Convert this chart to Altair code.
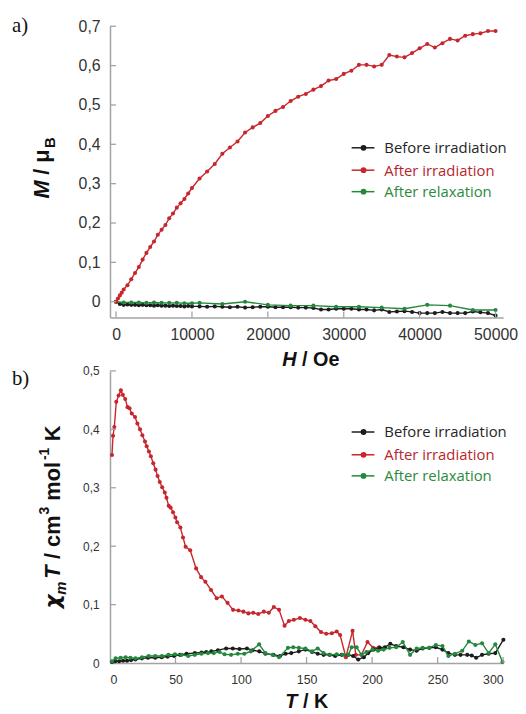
import altair as alt
import pandas as pd

SERIES = ["Before irradiation", "After irradiation", "After relaxation"]
COLORS = ["#1c1c1c", "#c8262d", "#22883b"]
TEXT_COLORS = ["#262626", "#b8262d", "#2b8a3e"]
AXC = "#a3a3a3"

# ---------------- panel a) : M vs H ----------------
H_before = [0, 500, 1000, 1500, 2000, 2500, 3000, 3500, 4000, 4500, 5000, 5500, 6000, 6500, 7000,
            7500, 8000, 8500, 9000, 9500, 10000, 11000, 12000, 13000, 14000, 15000, 16000, 17000,
            18000, 19000, 20000, 21000, 22000, 23000, 24000, 25000, 26000, 27000, 28000, 29000,
            30000, 31000, 32000, 33000, 34000, 35000, 36000, 37000, 38000, 39000, 40000, 41000,
            42000, 43000, 44000, 45000, 46000, 47000, 48000, 49000, 50000]
M_before = [0, -0.006, -0.008, -0.007, -0.008, -0.008, -0.009, -0.008, -0.009, -0.009, -0.010,
            -0.009, -0.010, -0.010, -0.011, -0.010, -0.011, -0.011, -0.012, -0.011, -0.012,
            -0.012, -0.013, -0.012, -0.013, -0.014, -0.013, -0.015, -0.014, -0.013, -0.013,
            -0.014, -0.014, -0.014, -0.015, -0.015, -0.016, -0.020, -0.020, -0.018, -0.018,
            -0.018, -0.020, -0.020, -0.022, -0.020, -0.026, -0.025, -0.024, -0.026, -0.029,
            -0.029, -0.029, -0.026, -0.029, -0.029, -0.029, -0.025, -0.027, -0.029, -0.035]

H_after = [0, 250, 500, 750, 1000, 1500, 2000, 2500, 3000, 3500, 4000, 4500, 5000, 5500, 6000,
           6500, 7000, 7500, 8000, 8500, 9000, 9500, 10000, 11000, 12000, 13000, 14000, 15000,
           16000, 17000, 18000, 19000, 20000, 21000, 22000, 23000, 24000, 25000, 26000, 27000,
           28000, 29000, 30000, 31000, 32000, 33000, 34000, 35000, 36000, 37000, 38000, 39000,
           40000, 41000, 42000, 43000, 44000, 45000, 46000, 47000, 48000, 49000, 50000]
M_after = [0, 0.008, 0.016, 0.023, 0.031, 0.042, 0.057, 0.073, 0.088, 0.107, 0.124, 0.139, 0.153,
           0.170, 0.183, 0.195, 0.212, 0.224, 0.239, 0.250, 0.261, 0.275, 0.289, 0.313, 0.331,
           0.350, 0.376, 0.392, 0.407, 0.430, 0.443, 0.454, 0.472, 0.485, 0.495, 0.510, 0.521,
           0.528, 0.539, 0.548, 0.562, 0.566, 0.579, 0.587, 0.602, 0.602, 0.598, 0.602, 0.627,
           0.623, 0.621, 0.632, 0.644, 0.655, 0.646, 0.657, 0.668, 0.664, 0.676, 0.680, 0.682,
           0.688, 0.688]

H_relax = [0, 1000, 2000, 3000, 4000, 5000, 6000, 7000, 8000, 9000, 10000, 11000, 14000, 17000,
           20000, 23000, 26000, 29000, 32000, 35000, 38000, 41000, 44000, 47000, 50000]
M_relax = [0, -0.002, -0.002, -0.002, -0.003, -0.002, -0.003, -0.003, -0.003, -0.004, -0.004,
           -0.003, -0.006, 0.000, -0.008, -0.010, -0.010, -0.013, -0.013, -0.015, -0.018, -0.008,
           -0.010, -0.021, -0.021]

H_ticks = [0, 10000, 20000, 30000, 40000, 50000]
M_ticks = [0, 0.1, 0.2, 0.3, 0.4, 0.5, 0.6, 0.7]

# ---------------- panel b) : chiT vs T ----------------
T_before = [1.5, 4, 7, 10, 13, 16, 19.4, 24.4, 29, 34.5, 39.5, 44, 49, 53.4, 58.4, 64.7, 69.8, 73.5,
            77.3, 82.4, 88.6, 93.7, 98.8, 104.5, 108.8, 113.9, 118.6, 124.7, 129.7, 134, 138.3,
            144.1, 149.1, 154.2, 158.5, 163, 167.5, 171.8, 176.8, 181.9, 185.5, 189.4, 193.7, 197,
            201.2, 205.8, 209.8, 213.9, 218.4, 223.9, 229, 234, 238.6, 243.6, 248.6, 253.7, 258.2,
            263.2, 267.5, 272.6, 276, 279.4, 283.9, 288.9, 294, 300.2]
X_before = [0.002, 0.003, 0.003, 0.004, 0.004, 0.005, 0.006, 0.008, 0.009, 0.009, 0.010, 0.011,
            0.012, 0.014, 0.016, 0.017, 0.018, 0.019, 0.020, 0.022, 0.025, 0.025, 0.024, 0.025,
            0.022, 0.020, 0.016, 0.014, 0.012, 0.016, 0.017, 0.020, 0.023, 0.019, 0.016, 0.014,
            0.014, 0.012, 0.014, 0.014, 0.012, 0.006, 0.010, 0.017, 0.023, 0.026, 0.027, 0.033,
            0.029, 0.027, 0.023, 0.021, 0.025, 0.026, 0.027, 0.023, 0.017, 0.014, 0.014, 0.014,
            0.013, 0.009, 0.014, 0.016, 0.017, 0.040]

T_after = [1.5, 2.3, 3.3, 4.8, 6.6, 8.3, 9.8, 11.6, 13.4, 14.9, 16.6, 19.1, 20.9, 22.9, 24.7, 26.7,
           28, 29.7, 31.2, 33, 34.8, 36.3, 38, 39.8, 41.8, 43.1, 44.8, 46.3, 48.1, 49.9, 51.2, 53.7,
           55.7, 57.7, 61.2, 65.7, 69.5, 72.8, 77.1, 81.4, 85.4, 89.7, 93.9, 98, 101.8, 105.6,
           109.3, 113.1, 117.4, 121.2, 125, 129, 133.2, 136.5, 140.3, 144.9, 149.1, 152.9, 156.7,
           161, 165, 169.3, 173, 175.6, 180, 185.1, 187.6, 191.9, 196.5, 200.8, 205.3, 208.8]
X_after = [0.356, 0.389, 0.404, 0.447, 0.458, 0.467, 0.459, 0.452, 0.438, 0.436, 0.427, 0.421,
           0.410, 0.400, 0.390, 0.379, 0.371, 0.362, 0.354, 0.342, 0.331, 0.320, 0.310, 0.301,
           0.292, 0.283, 0.269, 0.266, 0.258, 0.249, 0.241, 0.232, 0.215, 0.199, 0.193, 0.162,
           0.147, 0.139, 0.125, 0.111, 0.114, 0.103, 0.091, 0.090, 0.088, 0.085, 0.086, 0.084,
           0.088, 0.086, 0.096, 0.091, 0.064, 0.072, 0.074, 0.077, 0.074, 0.072, 0.063, 0.053,
           0.050, 0.051, 0.054, 0.048, 0.010, 0.055, 0.014, 0.014, 0.036, 0.026, 0.027, 0.025]

T_relax = [1.5, 4.3, 8.1, 11.9, 15.6, 19.4, 24.4, 29.5, 34.5, 39.6, 44.6, 49.6, 54.6, 59.7, 64.7,
           69.8, 74.8, 79.2, 83.6, 87.4, 92.4, 97.5, 102.5, 107.5, 113.8, 118.6, 124, 129, 135.8,
           139.8, 144.1, 149.1, 154.2, 158.5, 163, 168, 173, 177.6, 181.9, 184.4, 188.2, 191.9,
           195.7, 200.3, 204.6, 208.8, 213.3, 218.4, 223.4, 229, 234, 238.6, 243.6, 248.6, 253.7,
           258.2, 263.2, 268.8, 273.8, 278.8, 283.9, 288.9, 294, 299.5]
X_relax = [0.003, 0.008, 0.009, 0.010, 0.009, 0.008, 0.010, 0.012, 0.012, 0.012, 0.014, 0.015,
           0.014, 0.012, 0.014, 0.016, 0.017, 0.017, 0.019, 0.015, 0.014, 0.016, 0.016, 0.020,
           0.032, 0.017, 0.014, 0.010, 0.026, 0.027, 0.026, 0.025, 0.020, 0.025, 0.017, 0.014,
           0.015, 0.014, 0.014, 0.027, 0.027, 0.014, 0.019, 0.023, 0.021, 0.023, 0.026, 0.027,
           0.036, 0.014, 0.025, 0.026, 0.026, 0.031, 0.029, 0.012, 0.016, 0.021, 0.037, 0.031,
           0.034, 0.017, 0.032, 0.002]

T_ticks = [50, 100, 150, 200, 250, 300]
X_ticks = [0.1, 0.2, 0.3, 0.4, 0.5]

W = 397
H1 = 294
H2 = 295
FONT = "Liberation Sans"
COMMA = "datum.value == 0 ? '0' : replace(format(datum.value, '.1f'), '.', ',')"

color = alt.Color("series:N", scale=alt.Scale(domain=SERIES, range=COLORS), legend=None)


def series_df(xs, ys, name):
    return pd.DataFrame({"x": xs, "y": ys, "series": [name] * len(xs)})


def text(t, x, y, size, weight="bold", style="normal", angle=0, align="left",
         color="#111111", font=FONT, baseline="alphabetic"):
    kw = dict(text=t, fontSize=size, fontWeight=weight, fontStyle=style, align=align,
              baseline=baseline, color=color, font=font)
    if angle:
        kw["angle"] = angle
    return alt.Chart(pd.DataFrame({"k": [0]})).mark_text(**kw).encode(
        x=alt.value(x), y=alt.value(y))


def legend(rows_y):
    layers = []
    for name, c, tc, yy in zip(SERIES, COLORS, TEXT_COLORS, rows_y):
        d = pd.DataFrame({"series": [name]})
        layers.append(alt.Chart(d).mark_rule(color=c, strokeWidth=1.5).encode(
            x=alt.value(244), x2=alt.value(267), y=alt.value(yy)))
        layers.append(alt.Chart(d).mark_circle(color=c, size=34, opacity=1).encode(
            x=alt.value(256), y=alt.value(yy)))
        layers.append(alt.Chart(d).mark_text(text=name, font="Open Sans", fontSize=15,
                                             align="left", baseline="middle", color=tc).encode(
            x=alt.value(277), y=alt.value(yy + 0.5)))
    return layers


def panel(dfs, xenc, yenc, xt_vals, yt_vals, h, legend_rows, extra):
    layers = []
    for d in dfs:
        base = alt.Chart(d).encode(x=xenc, y=yenc, color=color)
        layers.append(base.mark_line(strokeWidth=1.4))
        layers.append(base.mark_circle(size=17, opacity=1))
    layers.append(alt.Chart(pd.DataFrame({"x": xt_vals})).mark_rule(color=AXC, strokeWidth=1.3).encode(
        x=xenc, y=alt.value(h), y2=alt.value(h - 6)))
    layers.append(alt.Chart(pd.DataFrame({"y": yt_vals})).mark_rule(color=AXC, strokeWidth=1.3).encode(
        y=yenc, x=alt.value(0), x2=alt.value(6)))
    layers += legend(legend_rows)
    layers += extra
    return alt.layer(*layers).properties(width=W, height=h)


# ---- panel a
xa = alt.X("x:Q", scale=alt.Scale(domain=[-800, 51000], nice=False, zero=False),
           axis=alt.Axis(values=H_ticks, format="d", title=None, labelFontSize=16, labelPadding=9))
ya = alt.Y("y:Q", scale=alt.Scale(domain=[-0.04, 0.7], nice=False, zero=False),
           axis=alt.Axis(values=M_ticks, labelExpr=COMMA, title=None, labelFontSize=16,
                         labelPadding=10))
dfa = [series_df(H_before, M_before, SERIES[0]), series_df(H_relax, M_relax, SERIES[2]),
       series_df(H_after, M_after, SERIES[1])]
extra_a = [
    text("a)", -99, 6, 21, weight="normal", font="Liberation Serif"),
    text("M", -62, 174, 22, style="italic", angle=270),
    text("/ μ", -62, 150, 22, angle=270),
    text("B", -56, 123, 15, angle=270),
    text("H", 174, 343, 20, style="italic"),
    text("/ Oe", 194, 343, 20),
]
top = panel(dfa, xa, ya, H_ticks, M_ticks, H1, [122.7, 145.3, 167], extra_a)

# ---- panel b
xb = alt.X("x:Q", scale=alt.Scale(domain=[0, 300], nice=False),
           axis=alt.Axis(values=[0] + T_ticks, format="d", title=None, labelFontSize=12.5,
                         labelPadding=11))
yb = alt.Y("y:Q", scale=alt.Scale(domain=[0, 0.5], nice=False),
           axis=alt.Axis(values=[0] + X_ticks, labelExpr=COMMA, title=None, labelFontSize=12,
                         labelPadding=11))
dfb = [series_df(T_after, X_after, SERIES[1]), series_df(T_before, X_before, SERIES[0]),
       series_df(T_relax, X_relax, SERIES[2])]
extra_b = [
    text("b)", -99, 14, 21, weight="normal", font="Liberation Serif"),
    text("χ", -50, 240, 22, style="italic", angle=270, font="DejaVu Sans"),
    text("m", -44, 226, 15, style="italic", angle=270),
    text("T", -50, 210, 22, style="italic", angle=270),
    text("/ cm", -50, 190, 22, angle=270),
    text("3", -62, 145, 14, angle=270),
    text("mol", -50, 131, 22, angle=270),
    text("-1", -62, 90, 14, angle=270),
    text("K", -50, 71, 22, angle=270),
    text("T", 177, 340, 20, style="italic"),
    text("/ K", 195, 340, 20),
]
bottom = panel(dfb, xb, yb, T_ticks, X_ticks, H2, [61.7, 84.7, 106], extra_b)

chart = alt.vconcat(top, bottom, spacing=54, bounds="flush").properties(
    padding={"left": 4, "top": 4, "right": 0, "bottom": 0}
).configure_view(stroke=None).configure_axis(
    grid=False, ticks=False, domainColor=AXC, domainWidth=1.5, labelColor="#333333",
    labelFont=FONT
)

chart.save("out.html", embed_options={"renderer": "svg", "actions": False})
